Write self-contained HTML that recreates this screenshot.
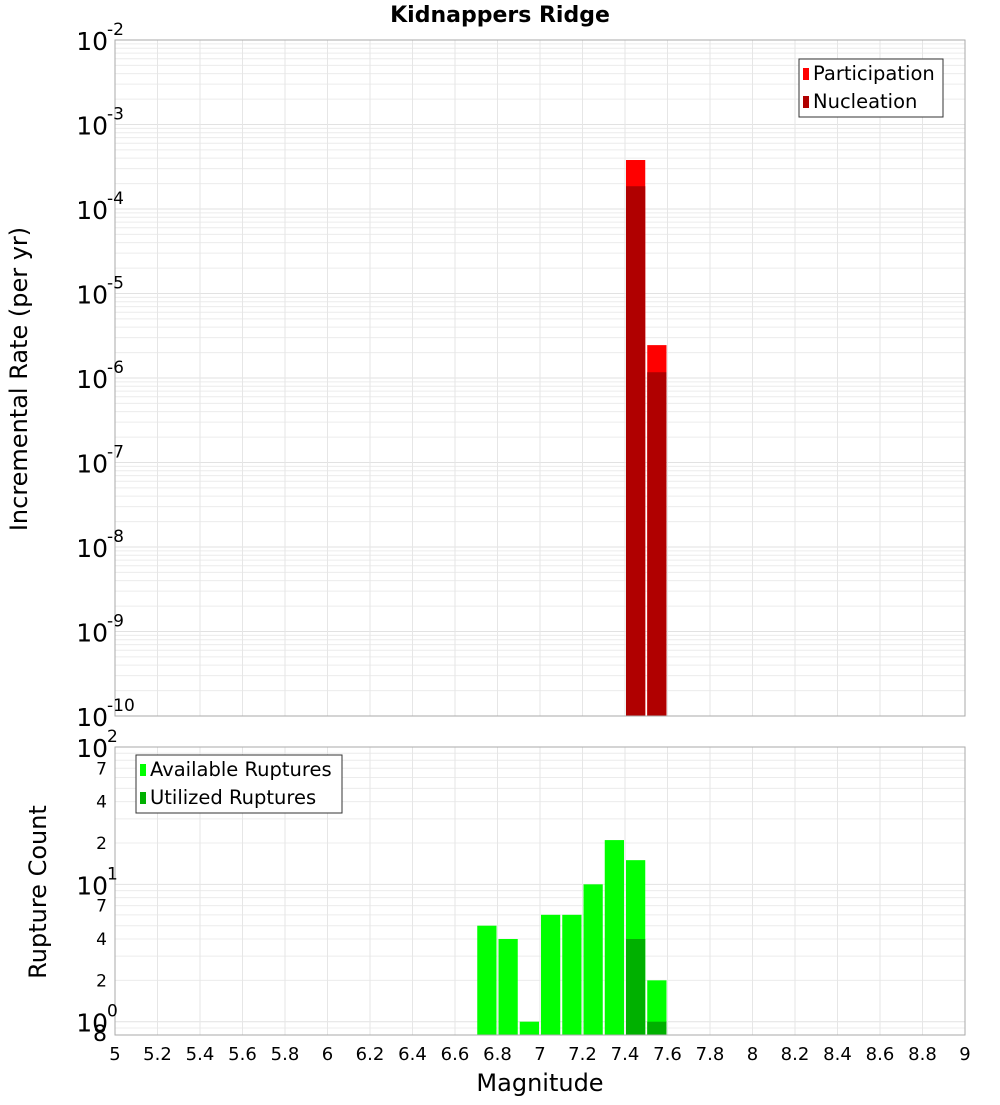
<!DOCTYPE html>
<html><head><meta charset="utf-8"><style>
body{margin:0;background:#fff;font-family:"Liberation Sans","DejaVu Sans",sans-serif}
svg text{font-family:"DejaVu Sans","Liberation Sans",sans-serif}
</style></head><body>
<svg id="c" width="1000" height="1100" xmlns="http://www.w3.org/2000/svg"></svg>
<script>
const magCenters=[7.45,7.55];
const participation=[3.8e-4,2.45e-6];
const nucleation=[1.86e-4,1.17e-6];
const cntCenters=[6.75,6.85,6.95,7.05,7.15,7.25,7.35,7.45,7.55];
const available=[5,4,1,6,6,10,21,15,2];
const utilCenters=[7.45,7.55];
const utilized=[4,1];
const xTicks=["5","5.2","5.4","5.6","5.8","6","6.2","6.4","6.6","6.8","7","7.2","7.4","7.6","7.8","8","8.2","8.4","8.6","8.8","9"];

const svg=document.getElementById('c');
const NS='http://www.w3.org/2000/svg';
function el(t,a,p){const e=document.createElementNS(NS,t);for(const k in a)e.setAttribute(k,a[k]);(p||svg).appendChild(e);return e;}
const X0=115,X1=965;
const x=m=>X0+(m-5)/4*(X1-X0);
const T0=40,T1=716;
const yT=v=>T0+(-2-Math.log10(v))*(T1-T0)/8;
const B0=747,B1=1035;
const yB=v=>B0+(2-Math.log10(v))*(B1-B0)/(2-Math.log10(0.8));

function grids(top,bot,yf,dmin,dmax,lo){
  for(let d=dmin;d<=dmax;d++)for(let k=1;k<10;k++){const v=k*Math.pow(10,d);if(v<lo)continue;const y=yf(v);if(y<top-0.5||y>bot+0.5)continue;
    const l=el('line',{x1:X0,x2:X1,y1:y,y2:y,stroke:k==1?'#e2e2e2':'#ececec','stroke-width':1});
    }
  for(let i=0;i<xTicks.length;i++){const xx=x(5+i*0.2);
    const l=el('line',{x1:xx,x2:xx,y1:top,y2:bot,stroke:'#e6e6e6','stroke-width':1});
    }
}
grids(T0,T1,yT,-10,-3,1e-10);
grids(B0,B1,yB,-1,1,0.8);

for(let i=0;i<magCenters.length;i++){
  const xa=x(magCenters[i]-0.05)+1,w=x(0.1+5)-X0-2;
  const r=el('rect',{x:xa,y:yT(participation[i]),width:w,height:T1-yT(participation[i]),fill:'#ff0000'});
  
  const n=el('rect',{x:xa,y:yT(nucleation[i]),width:w,height:T1-yT(nucleation[i]),fill:'#b00000'});
  
}
for(let i=0;i<cntCenters.length;i++){
  const xa=x(cntCenters[i]-0.05)+1,w=x(0.1+5)-X0-2;
  const r=el('rect',{x:xa,y:yB(available[i]),width:w,height:B1-yB(available[i]),fill:'#00ff00'});
  
}
for(let i=0;i<utilCenters.length;i++){
  const xa=x(utilCenters[i]-0.05)+1,w=x(0.1+5)-X0-2;
  const r=el('rect',{x:xa,y:yB(utilized[i]),width:w,height:B1-yB(utilized[i]),fill:'#00b000'});
  
}
let f=el('rect',{x:X0,y:T0,width:X1-X0,height:T1-T0,fill:'none',stroke:'#aaa'});

f=el('rect',{x:X0,y:B0,width:X1-X0,height:B1-B0,fill:'none',stroke:'#aaa'});


for(let d=-10;d<=-2;d++){const y=yT(Math.pow(10,d));
  const t=el('text',{x:108,y:y+10,'text-anchor':'end','font-size':25});
  
  t.textContent='10';
  const s=el('text',{x:107,y:y-5,'text-anchor':'start','font-size':17});
  
  s.textContent=String(d);
}
const bLab=[[100,'10','2'],[10,'10','1'],[1,'10','0']];
bLab.forEach(b=>{const y=yB(b[0]);
  const t=el('text',{x:108,y:y+10,'text-anchor':'end','font-size':25});
  t.textContent=b[1];
  const s=el('text',{x:107,y:y-5,'font-size':17});
  s.textContent=b[2];});
[[70,'7'],[40,'4'],[20,'2'],[7,'7'],[4,'4'],[2,'2'],[0.8,'8']].forEach(b=>{const y=yB(b[0]);
  const t=el('text',{x:107,y:y+6,'text-anchor':'end','font-size':b[0]==0.8?22:17});
  t.textContent=b[1];});

xTicks.forEach((s,i)=>{const t=el('text',{x:x(5+i*0.2),y:1060,'text-anchor':'middle','font-size':18});
  t.textContent=s;});

let t=el('text',{x:500,y:22,'text-anchor':'middle','font-size':22,'font-weight':'bold'});
t.textContent='Kidnappers Ridge';
t=el('text',{x:540,y:1091,'text-anchor':'middle','font-size':24});
t.textContent='Magnitude';
t=el('text',{x:0,y:0,'text-anchor':'middle','font-size':24,transform:'translate(27,379) rotate(-90)'});
t.textContent='Incremental Rate (per yr)';
t=el('text',{x:0,y:0,'text-anchor':'middle','font-size':24,transform:'translate(46,892) rotate(-90)'});
t.textContent='Rupture Count';

function legend(x0,y0,w,items,name){
  const g=el('g',{});
  el('rect',{x:x0,y:y0,width:w,height:58,fill:'#fff',stroke:'#333'},g);
  items.forEach((it,i)=>{
    const r=el('rect',{x:x0+4,y:y0+9+i*28,width:6,height:12,fill:it[1]},g);
    
    const tx=el('text',{x:x0+14,y:y0+21+i*28,'font-size':19.5},g);
    tx.textContent=it[0];});
}
legend(799,59,144,[['Participation','#ff0000'],['Nucleation','#b00000']],'top-legend');
legend(136,755,206,[['Available Ruptures','#00ff00'],['Utilized Ruptures','#00b000']],'bottom-legend');
</script>
</body></html>
